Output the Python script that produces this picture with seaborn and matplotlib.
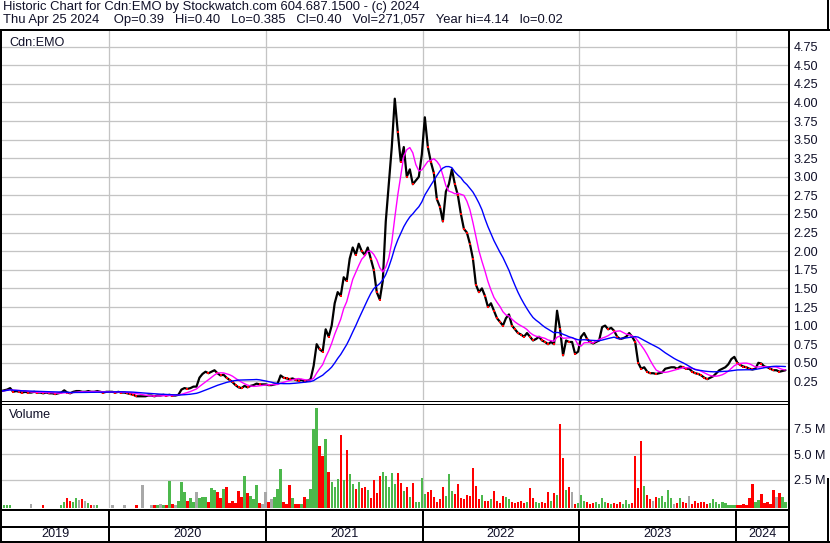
import numpy as np
import pandas as pd
import seaborn as sns
import matplotlib
matplotlib.use("Agg")
import matplotlib.pyplot as plt

# weekly closes, Apr 2019 -> Apr 2024
close = [
    # 2019
    0.12, 0.13, 0.14, 0.16, 0.11, 0.12, 0.11, 0.10, 0.11, 0.10,
    0.10, 0.11, 0.10, 0.10, 0.09, 0.10, 0.09, 0.09, 0.08, 0.09,
    0.10, 0.13, 0.10, 0.09, 0.11, 0.12, 0.12, 0.11, 0.11, 0.12,
    0.11, 0.11, 0.12, 0.11, 0.10, 0.11,
    # 2020
    0.11, 0.11, 0.10, 0.11, 0.10, 0.10, 0.09, 0.08, 0.07, 0.05,
    0.05, 0.05, 0.05, 0.06, 0.06, 0.05, 0.06, 0.06, 0.07, 0.06,
    0.07, 0.06, 0.06, 0.07, 0.14, 0.16, 0.15, 0.16, 0.18, 0.18,
    0.30, 0.35, 0.38, 0.36, 0.38, 0.40, 0.36, 0.33, 0.34, 0.30,
    0.27, 0.24, 0.20, 0.17, 0.16, 0.19, 0.17, 0.19, 0.20, 0.22,
    0.21, 0.21,
    # 2021
    0.21, 0.20, 0.20, 0.21, 0.22, 0.33, 0.30, 0.29, 0.28, 0.29,
    0.27, 0.26, 0.27, 0.25, 0.26, 0.28, 0.46, 0.75, 0.68, 0.65,
    0.95, 0.85, 1.00, 1.30, 1.45, 1.40, 1.65, 1.60, 1.90, 2.05,
    1.95, 2.10, 2.00, 1.95, 2.05, 1.90, 1.75, 1.45, 1.35, 1.60,
    2.40, 2.90, 3.40, 4.05, 3.60, 3.20, 3.40, 3.00, 3.10, 2.90,
    2.95, 3.00,
    # 2022
    3.30, 3.80, 3.40, 3.20, 3.05, 2.70, 2.60, 2.40, 2.80, 2.90,
    3.10, 2.90, 2.75, 2.50, 2.30, 2.25, 2.10, 1.90, 1.55, 1.45,
    1.50, 1.40, 1.25, 1.30, 1.20, 1.10, 1.05, 1.00, 1.10, 1.15,
    1.00, 0.95, 0.90, 0.88, 0.85, 0.90, 0.85, 0.80, 0.82, 0.85,
    0.80, 0.78, 0.75, 0.78, 0.75, 1.20, 0.95, 0.60, 0.80, 0.78,
    0.78, 0.62,
    # 2023
    0.65, 0.85, 0.90, 0.82, 0.78, 0.76, 0.78, 0.80, 0.98, 1.00,
    0.95, 0.97, 0.93, 0.85, 0.82, 0.83, 0.85, 0.90, 0.85, 0.78,
    0.50, 0.42, 0.44, 0.38, 0.36, 0.36, 0.35, 0.36, 0.37, 0.42,
    0.43, 0.44, 0.44, 0.42, 0.45, 0.44, 0.42, 0.42, 0.38, 0.36,
    0.35, 0.33, 0.30, 0.28, 0.30, 0.32, 0.36, 0.40, 0.42, 0.44,
    0.48, 0.55,
    # 2024
    0.58, 0.50, 0.47, 0.45, 0.44, 0.42, 0.41, 0.42, 0.50, 0.49,
    0.45, 0.44, 0.42, 0.40, 0.40, 0.38, 0.39, 0.40,
]

# weekly volume, millions of shares
volume = [
    # 2019
    0.05, 0.08, 0.05, 0.06, 0, 0, 0, 0, 0, 0,
    0.10, 0, 0, 0, 0.05, 0, 0, 0, 0, 0,
    0.03, 0.30, 0.70, 0.40, 0.30, 0.70, 0.50, 0.60, 0.40, 0.20,
    0.05, 0.05, 0.05, 0, 0, 0,
    # 2020
    0, 0.05, 0, 0, 0, 0.05, 0, 0, 0, 0.05,
    0, 2.00, 0, 0, 0.03, 0.05, 0.05, 0.10, 0.05, 0.05,
    2.40, 0.10, 0.05, 0.40, 2.30, 1.30, 0.40, 0.70, 0.30, 1.30,
    0.70, 0.80, 0.80, 0.30, 1.70, 1.50, 1.30, 0.70, 1.60, 1.80,
    0.20, 0.40, 0.20, 1.40, 0.80, 2.90, 1.20, 0.90, 0.60, 2.00,
    0.20, 0.10,
    # 2021
    1.30, 0.30, 0.60, 0.80, 1.60, 3.60, 0.30, 0.10, 2.00, 0.70,
    0.10, 0.10, 0.10, 0.80, 0.60, 1.60, 7.50, 9.50, 5.80, 4.80,
    6.50, 3.30, 2.30, 1.80, 2.60, 6.90, 2.50, 5.40, 3.10, 2.10,
    1.60, 2.30, 1.70, 1.80, 1.50, 0.70, 2.50, 1.20, 2.90, 3.30,
    2.90, 1.80, 3.20, 2.10, 3.20, 2.20, 1.40, 1.80, 0.80, 2.20,
    0.30, 0.30,
    # 2022
    2.70, 1.10, 1.30, 1.50, 0.80, 0.30, 0.60, 1.80, 0.90, 3.10,
    1.40, 1.10, 2.10, 0.70, 0.60, 1.00, 0.90, 3.70, 1.90, 0.60,
    1.00, 0.40, 0.40, 0.60, 1.40, 0.40, 0.20, 0.90, 0.80, 0.60,
    0.30, 0.20, 0.30, 0.40, 0.20, 0.30, 1.70, 0.70, 0.30, 0.20,
    0.30, 0.20, 1.30, 0.40, 1.20, 1.00, 7.90, 4.60, 1.50, 1.80,
    1.30, 0.10,
    # 2023
    0.20, 1.00, 0.40, 0.30, 0.10, 0.20, 0.30, 0.10, 0.70, 0.30,
    0.20, 0.10, 0.20, 0.10, 0.30, 0.10, 0.50, 0.10, 0.20, 4.80,
    1.70, 6.30, 1.90, 1.00, 0.60, 0.40, 0.80, 0.70, 0.90, 0.30,
    1.50, 0.70, 0.10, 0.20, 0.70, 0.30, 0.20, 0.90, 0.10, 0.40,
    0.20, 0.30, 0.30, 0.10, 0.20, 0.60, 0.30, 0.10, 0.30, 0.20,
    0.05, 0.05,
    # 2024
    0.05, 0.05, 0.05, 0.10, 0.05, 0.70, 2.10, 0.30, 0.50, 1.10,
    0.20, 0.30, 0.10, 1.50, 0.80, 1.20, 0.80, 0.30,
]

price_ticks = np.arange(0.25, 4.8, 0.25)
vol_ticks = [2.5, 5.0, 7.5]
years = [2019, 2020, 2021, 2022, 2023, 2024]

header1 = "Historic Chart for Cdn:EMO by Stockwatch.com 604.687.1500 - (c) 2024"
header2 = ("Thu Apr 25 2024    Op=0.39   Hi=0.40   Lo=0.385   Cl=0.40   "
           "Vol=271,057   Year hi=4.14   lo=0.02")

df = pd.DataFrame({
    "date": pd.date_range(end="2024-04-25", periods=len(close), freq="7D"),
    "close": close,
    "vol": volume,
})
df["ma_fast"] = df["close"].rolling(7, min_periods=1).mean()
df["ma_slow"] = df["close"].rolling(20, min_periods=1).mean()
chg = df["close"].diff().fillna(0)
df["dir"] = np.where(chg > 0, "up", np.where(chg < 0, "down", "flat"))

sns.set_theme(style="white")
plt.rcParams["font.family"] = ["Liberation Sans", "DejaVu Sans"]

W, H = 830, 543
fig = plt.figure(figsize=(W / 100, H / 100), dpi=100)
fig.patch.set_facecolor("white")


def rect(x0, y0, x1, y1):
    return [x0 / W, 1 - y1 / H, (x1 - x0) / W, (y1 - y0) / H]


x0, x1 = pd.Timestamp("2019-04-27"), pd.Timestamp("2024-05-01")
bounds = [pd.Timestamp(f"{y}-01-01") for y in years[1:]]
grid_c = "#c4c4c4"
txt_c = "#101028"
fs = 9.1
px = 0.72  # one pixel in points

# price panel
ax = fig.add_axes(rect(2, 31, 788, 400))
sns.lineplot(data=df, x="date", y="close", color="black", lw=1.6, ax=ax, zorder=3)
down = df[df["dir"] == "down"]
ax.scatter(down["date"], down["close"], s=3, marker="s", color="red", lw=0, zorder=4)
sns.lineplot(data=df, x="date", y="ma_fast", color="#ff00ff", lw=1.0, ax=ax, zorder=5)
sns.lineplot(data=df, x="date", y="ma_slow", color="#0000ff", lw=1.0, ax=ax, zorder=5)
ax.set_xlim(x0, x1)
ax.set_ylim(0, 369 / 74.4)
ax.set_yticks(price_ticks)
ax.set_yticklabels([f"{v:.2f}" for v in price_ticks])
ax.set_xticks(bounds)
ax.grid(True, color=grid_c, lw=px * 1.3)

# volume panel
axv = fig.add_axes(rect(2, 404, 788, 508))
pal = {"up": "#4cb84c", "down": "#ff0000", "flat": "#a8a8a8"}
bars = df[df["vol"] > 0]
axv.bar(bars["date"], bars["vol"] + 0.25, bottom=-0.25, width=5.5,
        color=bars["dir"].map(pal), lw=0, zorder=3)
axv.set_xlim(x0, x1)
axv.set_ylim(-0.25, 9.9)
axv.set_yticks(vol_ticks)
axv.set_yticklabels([f"{v:.1f} M" for v in vol_ticks])
axv.set_xticks(bounds)
axv.grid(True, color=grid_c, lw=px * 1.3)

for a in (ax, axv):
    a.set_xlabel("")
    a.set_ylabel("")
    for s in a.spines.values():
        s.set_visible(False)
    a.tick_params(axis="y", left=False, labelleft=False, right=False, labelright=True,
                  length=0, pad=4.0, labelsize=fs, labelcolor=txt_c)
    a.tick_params(axis="x", bottom=False, labelbottom=False, length=0)

# year band
axy = fig.add_axes(rect(2, 510, 788, 541))
axy.set_xlim(x0, x1)
axy.set_ylim(0, 1)
axy.axis("off")
edges = [x0] + bounds + [x1]
for i, y in enumerate(years):
    mid = edges[i] + (edges[i + 1] - edges[i]) / 2
    axy.text(mid, 0.22, str(y), ha="center", va="center", fontsize=fs, color=txt_c)
for b in bounds:
    axy.axvline(b, color="black", lw=px * 2)

# frame lines in pixel space
ov = fig.add_axes([0, 0, 1, 1], zorder=10)
ov.set_xlim(0, W)
ov.set_ylim(H, 0)
ov.axis("off")
ov.patch.set_alpha(0)
frame = [
    ((0, 830), (30, 30), 2),
    ((1, 1), (30, 542), 2),
    ((788.5, 788.5), (30, 542), 2),
    ((827.5, 827.5), (0, 30), 2),
    ((827.5, 827.5), (478, 542), 2),
    ((0, 788), (400.5, 400.5), 1),
    ((0, 788), (403.5, 403.5), 1),
    ((0, 788), (509.5, 509.5), 2),
    ((0, 788), (527, 527), 2),
    ((0, 830), (541.5, 541.5), 2),
]
for xs, ys, w in frame:
    ov.plot(xs, ys, color="black", lw=px * w, solid_capstyle="butt")

ov.text(3, 10, header1, fontsize=9.35, color=txt_c, va="baseline")
ov.text(3, 23.5, header2, fontsize=9.35, color=txt_c, va="baseline")
ov.text(9, 46, "Cdn:EMO", fontsize=fs, color=txt_c, va="baseline")
ov.text(9, 417.5, "Volume", fontsize=fs, color=txt_c, va="baseline")

fig.savefig("out.png", dpi=100)
